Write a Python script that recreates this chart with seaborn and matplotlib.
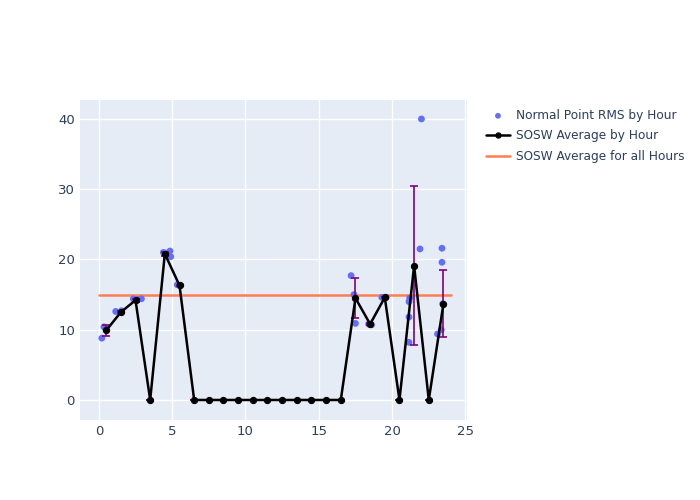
import matplotlib
matplotlib.use("Agg")
import matplotlib.pyplot as plt
import seaborn as sns
import pandas as pd

# Normal point RMS by hour (scatter)
pt_x = [0.2, 0.35, 0.45, 1.15, 1.55, 2.35, 2.65, 2.9, 4.4, 4.6, 4.85, 4.9, 5.35, 5.5,
        17.2, 17.4, 17.5, 18.4, 18.6, 19.3, 19.6,
        21.15, 21.15, 21.15, 21.2, 21.9, 22.0,
        23.1, 23.35, 23.4, 23.4, 23.45]
pt_y = [8.8, 10.4, 10.2, 12.6, 12.7, 14.4, 14.3, 14.4, 21.0, 20.9, 21.2, 20.4, 16.4, 16.3,
        17.7, 15.0, 10.9, 10.8, 10.7, 14.6, 14.6,
        14.0, 11.8, 8.2, 14.5, 21.5, 40.0,
        9.4, 10.0, 21.6, 19.6, 13.7]

# SOSW average by hour
hour_x = [0.5, 1.5, 2.5, 3.5, 4.5, 5.5, 6.5, 7.5, 8.5, 9.5, 10.5, 11.5, 12.5, 13.5,
          14.5, 15.5, 16.5, 17.5, 18.5, 19.5, 20.5, 21.5, 22.5, 23.5]
hour_avg = [9.9, 12.5, 14.2, 0, 20.8, 16.3, 0, 0, 0, 0, 0, 0, 0, 0,
            0, 0, 0, 14.5, 10.8, 14.6, 0, 19.1, 0, 13.7]
hour_std = [0.8, 0.1, 0.2, 0, 0.3, 0.1, 0, 0, 0, 0, 0, 0, 0, 0,
            0, 0, 0, 2.9, 0.1, 0.1, 0, 11.3, 0, 4.8]

# SOSW average for all hours
all_x = [0, 24]
all_avg = [15.0, 15.0]

sns.set_theme(style="darkgrid")
fig = plt.figure(figsize=(7, 5), dpi=100)
ax = fig.add_axes([0.114, 0.16, 0.553, 0.64])
ax.set_facecolor("#E5ECF6")

pts = pd.DataFrame({"x": pt_x, "y": pt_y})
hr = pd.DataFrame({"x": hour_x, "y": hour_avg})
al = pd.DataFrame({"x": all_x, "y": all_avg})

sns.scatterplot(data=pts, x="x", y="y", ax=ax, color="#636EFA", s=24, edgecolor="none",
                label="Normal Point RMS by Hour", zorder=3)
ax.errorbar(hour_x, hour_avg, yerr=hour_std, fmt="none", ecolor="purple", elinewidth=1.2,
            capsize=3, capthick=1.2, zorder=4)
sns.lineplot(data=hr, x="x", y="y", ax=ax, color="black", marker="o", markersize=4.5,
             markeredgecolor="black", linewidth=1.8, label="SOSW Average by Hour", zorder=5)
sns.lineplot(data=al, x="x", y="y", ax=ax, color="#FF7F50", linewidth=1.8,
             label="SOSW Average for all Hours", zorder=2)

ax.set_xlim(-1.3, 25.1)
ax.set_ylim(-2.85, 42.7)
ax.set_xticks([0, 5, 10, 15, 20, 25])
ax.set_yticks([0, 10, 20, 30, 40])
ax.set_xlabel("")
ax.set_ylabel("")
ax.grid(True, color="white", linewidth=1)
for s in ax.spines.values():
    s.set_visible(False)
ax.tick_params(axis="both", length=0, labelcolor="#2a3f5f", labelsize=9.5)

leg = ax.legend(loc="upper left", bbox_to_anchor=(0.682, 0.799), bbox_transform=fig.transFigure,
                frameon=False, fontsize=8.7, labelcolor="#2a3f5f", handlelength=2.0,
                handletextpad=0.5, labelspacing=0.62, borderpad=0.2, markerscale=0.85)

fig.savefig("out.png", dpi=100)
